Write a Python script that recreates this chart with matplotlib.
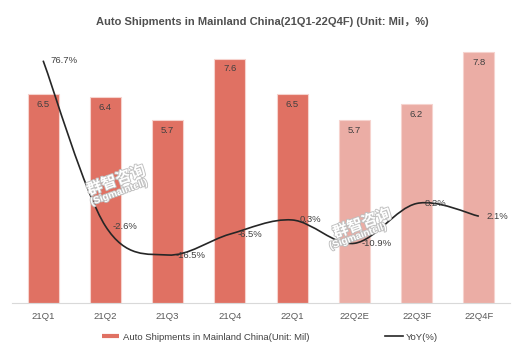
import matplotlib
matplotlib.use("Agg")
import matplotlib.pyplot as plt
from matplotlib.path import Path
from matplotlib.patches import PathPatch
from matplotlib.lines import Line2D
import matplotlib.patheffects as pe
import numpy as np

plt.rcParams['font.family'] = ['Liberation Sans', 'Noto Sans CJK SC', 'DejaVu Sans']

categories = ["21Q1", "21Q2", "21Q3", "21Q4", "22Q1", "22Q2E", "22Q3F", "22Q4F"]
shipments = [6.5, 6.4, 5.7, 7.6, 6.5, 5.7, 6.2, 7.8]
yoy = [76.7, -2.6, -16.5, -6.5, 0.3, -10.9, 8.2, 2.1]
forecast = [False, False, False, False, False, True, True, True]

title = "Auto Shipments in Mainland China(21Q1-22Q4F) (Unit: Mil\uff0c%)"
bar_label = "Auto Shipments in Mainland China(Unit: Mil)"
line_label = "YoY(%)"

dark = "#E07163"
light = "#EBADA5"
edge = "#F6D3CE"
txt = "#404040"

W, H = 524, 354
fig = plt.figure(figsize=(W / 100, H / 100), dpi=100)
left, right = 12 / W, 510 / W
bottom, top = (H - 303.3) / H, (H - 45) / H
ax = fig.add_axes([left, bottom, right - left, top - bottom])
ax2 = ax.twinx()

x = np.arange(len(categories))
colors = [light if f else dark for f in forecast]
bars = ax.bar(x, shipments, width=0.5, color=colors, edgecolor=edge, linewidth=0.8, zorder=2)
ax.set_xlim(-0.5, len(categories) - 0.5)
ax.set_ylim(0, 8.02)
ax2.set_ylim(-39.66, 84.2)

for xi, v in zip(x, shipments):
    ax.annotate(f"{v:.1f}", (xi, v), xytext=(0, -7.5), textcoords="offset points",
                ha="center", va="center", fontsize=6.8, color=txt, zorder=5)

# smoothed line (Bezier through data points)
pts = np.column_stack([x, yoy]).astype(float)
verts = [tuple(pts[0])]
codes = [Path.MOVETO]
n = len(pts)
for i in range(n - 1):
    p0 = pts[i - 1] if i > 0 else pts[i]
    p1 = pts[i]
    p2 = pts[i + 1]
    p3 = pts[i + 2] if i + 2 < n else pts[i + 1]
    c1 = p1 + (p2 - p0) / 6.0
    c2 = p2 - (p3 - p1) / 6.0
    verts += [tuple(c1), tuple(c2), tuple(p2)]
    codes += [Path.CURVE4] * 3
path = Path(verts, codes)
ax2.add_patch(PathPatch(path, facecolor="none", edgecolor="#262626", linewidth=1.2, zorder=3))

for xi, v in zip(x, yoy):
    ax2.annotate(f"{v:.1f}%", (xi, v), xytext=(5.5, 0), textcoords="offset points",
                 ha="left", va="center", fontsize=6.8, color=txt, zorder=6)

# axes styling
for a in (ax, ax2):
    for s in ("top", "right", "left"):
        a.spines[s].set_visible(False)
    a.set_yticks([])
ax.spines["bottom"].set_color("#D9D9D9")
ax.spines["bottom"].set_linewidth(0.8)
ax2.spines["bottom"].set_visible(False)
ax.set_xticks(x)
ax.set_xticklabels(categories, fontsize=6.8, color="#595959")
ax.tick_params(axis="x", length=0, pad=6)

fig.text(0.5, (H - 22) / H, title, ha="center", va="center", fontsize=8.0,
         fontweight="bold", color="#505050")

# watermarks
wm_fx = [pe.withStroke(linewidth=1.3, foreground="#BFBFBF")]
for (cx, cy, ex, ey) in [(116, 180, 119, 192), (362, 223, 358, 236)]:
    fig.text(cx / W, (H - cy) / H, "群智咨询", ha="center", va="center", fontsize=11,
             rotation=20, color="white", fontweight="bold", path_effects=wm_fx, zorder=1,
             family=["Noto Sans CJK SC"])
    fig.text(ex / W, (H - ey) / H, "(Sigmaintell)", ha="center", va="center",
             fontsize=7.2, rotation=20, color="white", fontweight="bold", path_effects=wm_fx,
             zorder=1)

handles = [Line2D([0], [0], color=dark, lw=3, solid_capstyle="butt"),
           Line2D([0], [0], color="#262626", lw=1.2)]
fig.legend(handles, [bar_label, line_label], loc="center", bbox_to_anchor=(0.515, (H - 337) / H),
           ncol=2, frameon=False, fontsize=6.8, handlelength=1.9, handletextpad=0.35,
           columnspacing=8, labelcolor="#404040")

fig.savefig("out.png", dpi=100)
